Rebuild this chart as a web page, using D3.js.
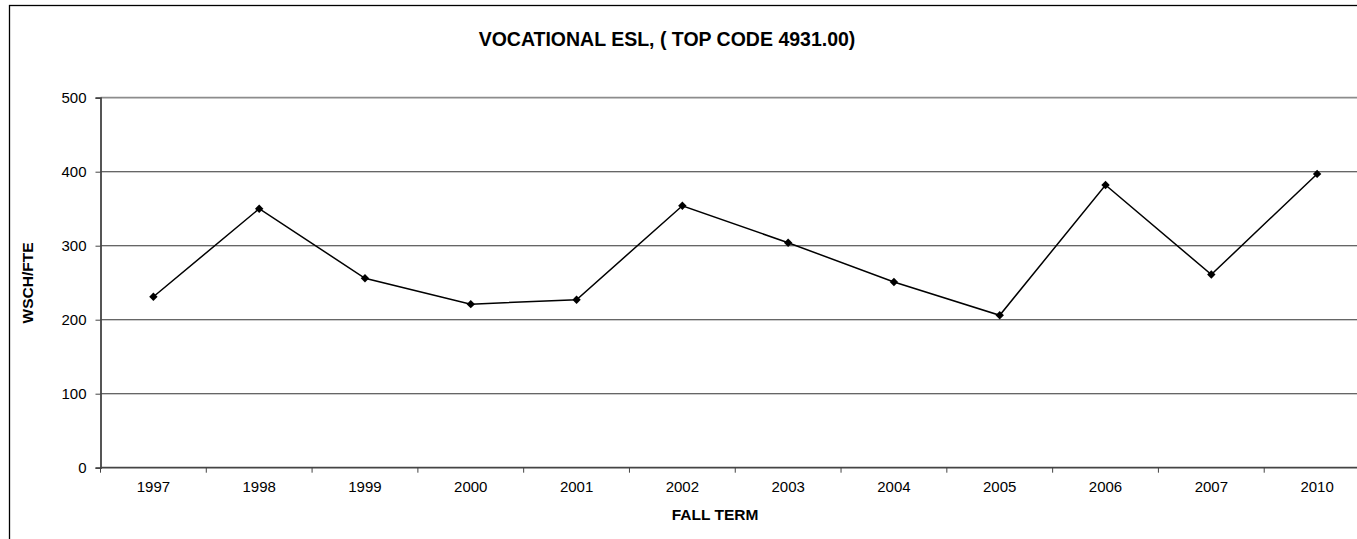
<!DOCTYPE html>
<html>
<head>
<meta charset="utf-8">
<script src="https://cdn.jsdelivr.net/npm/d3@7"></script>
<style>
  html, body { margin: 0; padding: 0; background: #fff; }
  svg { display: block; font-family: "Liberation Sans", Arial, sans-serif; }
</style>
</head>
<body>
<svg id="chart" width="1357" height="539"></svg>
<script>
// Fall terms and weekly student contact hours per FTE
const terms = ["1997", "1998", "1999", "2000", "2001", "2002", "2003", "2004", "2005", "2006", "2007", "2010"];
const wschPerFte = [231, 350, 256, 221, 227, 354, 304, 251, 206, 382, 261, 397];
const yTicks = [0, 100, 200, 300, 400, 500];

const svg = d3.select("#chart");
const plot = { left: 100.5, right: 1370, top: 97.7, bottom: 467.7 };

// outer chart frame
svg.append("rect")
  .attr("x", 9.5).attr("y", 5.5)
  .attr("width", 1400).attr("height", 600)
  .attr("fill", "none").attr("stroke", "#000").attr("stroke-width", 1.3);

const x = d3.scaleBand().domain(terms).range([plot.left, plot.right]).padding(0);
const y = d3.scaleLinear().domain([0, 500]).range([plot.bottom, plot.top]);

// horizontal gridlines
svg.append("g")
  .selectAll("line")
  .data(yTicks.filter(d => d > 0))
  .join("line")
  .attr("x1", plot.left).attr("x2", plot.right)
  .attr("y1", d => y(d)).attr("y2", d => y(d))
  .attr("stroke", d => d === 500 ? "#8c8c8c" : "#333")
  .attr("stroke-width", d => d === 500 ? 1.8 : 1.1);

// y axis
const yAxis = svg.append("g")
  .attr("transform", `translate(${plot.left},0)`)
  .call(d3.axisLeft(y).tickValues(yTicks).tickSize(5).tickPadding(9));
yAxis.select(".domain").attr("stroke", "#444").attr("stroke-width", 1.8);
yAxis.selectAll(".tick line").attr("stroke", "#444").attr("stroke-width", 1);
yAxis.selectAll(".tick text")
  .attr("font-size", 15).attr("fill", "#000")
  .attr("font-family", "Liberation Sans, Arial, sans-serif");

// x axis with ticks between categories
const xAxisG = svg.append("g").attr("transform", `translate(0,${plot.bottom})`);
xAxisG.append("line")
  .attr("x1", plot.left).attr("x2", plot.right)
  .attr("stroke", "#444").attr("stroke-width", 1.8);
xAxisG.selectAll("line.tk")
  .data(terms)
  .join("line").attr("class", "tk")
  .attr("x1", d => x(d)).attr("x2", d => x(d))
  .attr("y1", 0).attr("y2", 5)
  .attr("stroke", "#444").attr("stroke-width", 1);
xAxisG.selectAll("text")
  .data(terms)
  .join("text")
  .attr("x", d => x(d) + x.bandwidth() / 2)
  .attr("y", 24)
  .attr("text-anchor", "middle")
  .attr("font-size", 15).attr("fill", "#000")
  .text(d => d);

// series line
const pts = terms.map((t, i) => [x(t) + x.bandwidth() / 2, y(wschPerFte[i])]);
svg.append("path")
  .attr("d", d3.line()(pts))
  .attr("fill", "none").attr("stroke", "#000").attr("stroke-width", 1.5);

// diamond markers
svg.append("g")
  .selectAll("path")
  .data(pts)
  .join("path")
  .attr("transform", d => `translate(${d[0]},${d[1]})`)
  .attr("d", "M0,-4.2L4.2,0L0,4.2L-4.2,0Z")
  .attr("fill", "#000");

// titles
svg.append("text")
  .attr("x", 667).attr("y", 45.5)
  .attr("text-anchor", "middle")
  .attr("font-size", 19.5).attr("font-weight", "bold")
  .text("VOCATIONAL ESL, ( TOP CODE 4931.00)");

svg.append("text")
  .attr("x", 715).attr("y", 520)
  .attr("text-anchor", "middle")
  .attr("font-size", 15.5).attr("font-weight", "bold")
  .text("FALL TERM");

svg.append("text")
  .attr("transform", "translate(33,283) rotate(-90)")
  .attr("text-anchor", "middle")
  .attr("font-size", 15.5).attr("font-weight", "bold")
  .text("WSCH/FTE");
</script>
</body>
</html>
